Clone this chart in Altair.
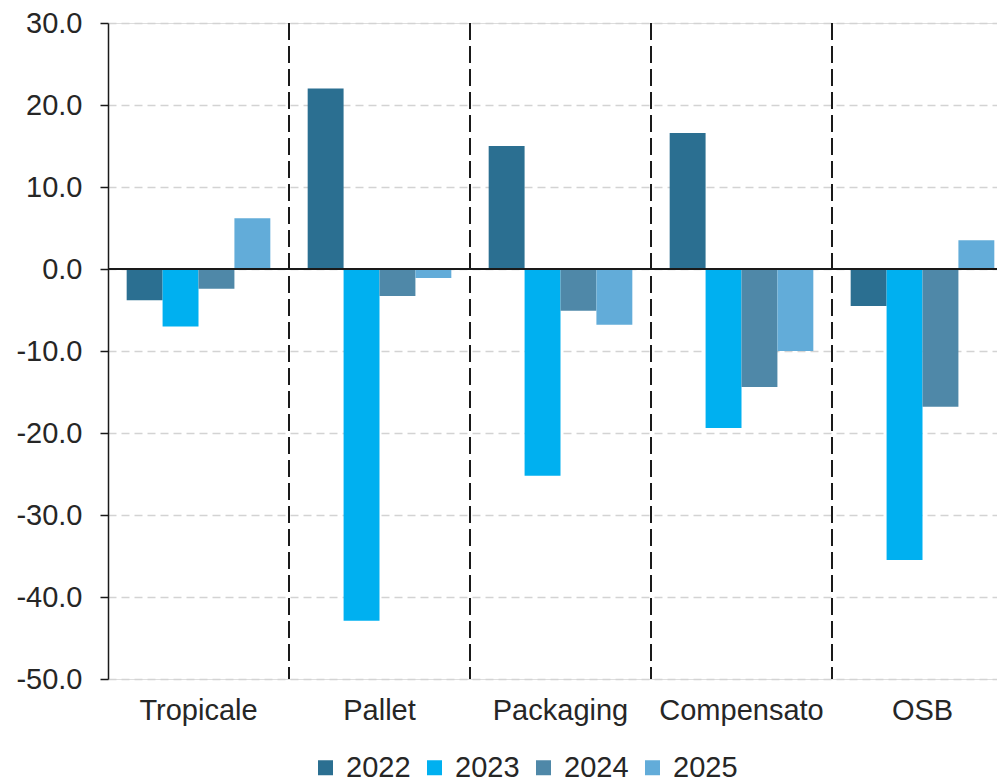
import altair as alt
import pandas as pd

categories = ["Tropicale", "Pallet", "Packaging", "Compensato", "OSB"]
years = ["2022", "2023", "2024", "2025"]
v2022 = [-3.8, 22.0, 15.0, 16.6, -4.5]
v2023 = [-7.0, -42.9, -25.2, -19.4, -35.5]
v2024 = [-2.4, -3.3, -5.1, -14.4, -16.8]
v2025 = [6.2, -1.1, -6.8, -10.0, 3.5]
y_ticks = [-50, -40, -30, -20, -10, 0, 10, 20, 30]
colors = ["#2b6f91", "#00b0f0", "#4f88a8", "#62acd9"]

rows = []
for yr, vals in zip(years, [v2022, v2023, v2024, v2025]):
    for c, v in zip(categories, vals):
        rows.append({"cat": c, "year": yr, "value": v})
df = pd.DataFrame(rows)
sep_df = pd.DataFrame({"cat": categories[1:]})
zero_df = pd.DataFrame({"z": [0]})

FONT = "Liberation Sans"
TXT = "#262626"
FS = 29

x_enc = alt.X(
    "cat:N", sort=categories,
    scale=alt.Scale(paddingInner=0, paddingOuter=0, range=[0, 905]),
    axis=alt.Axis(title=None, labelAngle=0, domain=False, ticks=False, grid=False,
                  labelFontSize=FS, labelPadding=17, labelColor=TXT, labelFont=FONT),
)

bars = alt.Chart(df).mark_bar().encode(
    x=x_enc,
    xOffset=alt.XOffset("year:N", sort=years,
                        scale=alt.Scale(paddingInner=0, paddingOuter=0.52)),
    y=alt.Y("value:Q",
            scale=alt.Scale(domain=[-50, 30], nice=False, zero=False),
            axis=alt.Axis(title=None, values=y_ticks,
                          labelExpr="replace(format(datum.value, '.1f'), '\u2212', '-')",
                          labelFontSize=FS, labelPadding=18, labelColor=TXT, labelFont=FONT,
                          domainColor="#1a1a1a", domainWidth=1.5,
                          tickColor="#1a1a1a", tickSize=8, tickWidth=1.5,
                          grid=True, gridColor="#d3d3d3", gridDash=[8, 5], gridWidth=1.5)),
    color=alt.Color("year:N", sort=years,
                    scale=alt.Scale(domain=years, range=colors),
                    legend=alt.Legend(title=None, orient="none", direction="horizontal",
                                      legendX=203, legendY=730,
                                      symbolType="square", symbolSize=225,
                                      symbolStrokeWidth=0,
                                      labelFontSize=FS, labelFont=FONT, labelColor=TXT,
                                      labelOffset=6, columnPadding=9)),
)

seps = alt.Chart(sep_df).mark_rule(color="#1a1a1a", strokeWidth=2, strokeDash=[17, 6]).encode(
    x=alt.X("cat:N", sort=categories, bandPosition=0)
)

zero = alt.Chart(zero_df).mark_rule(color="#1a1a1a", strokeWidth=2).encode(y="z:Q")

chart = alt.layer(bars, seps, zero).properties(
    width=889, height=656,
    autosize=alt.AutoSizeParams(type="none"),
    padding={"left": 100, "top": 15, "right": 0, "bottom": 106},
).configure_view(stroke=None).configure(font=FONT)

chart.save("out.html", embed_options={"renderer": "svg", "actions": False})
